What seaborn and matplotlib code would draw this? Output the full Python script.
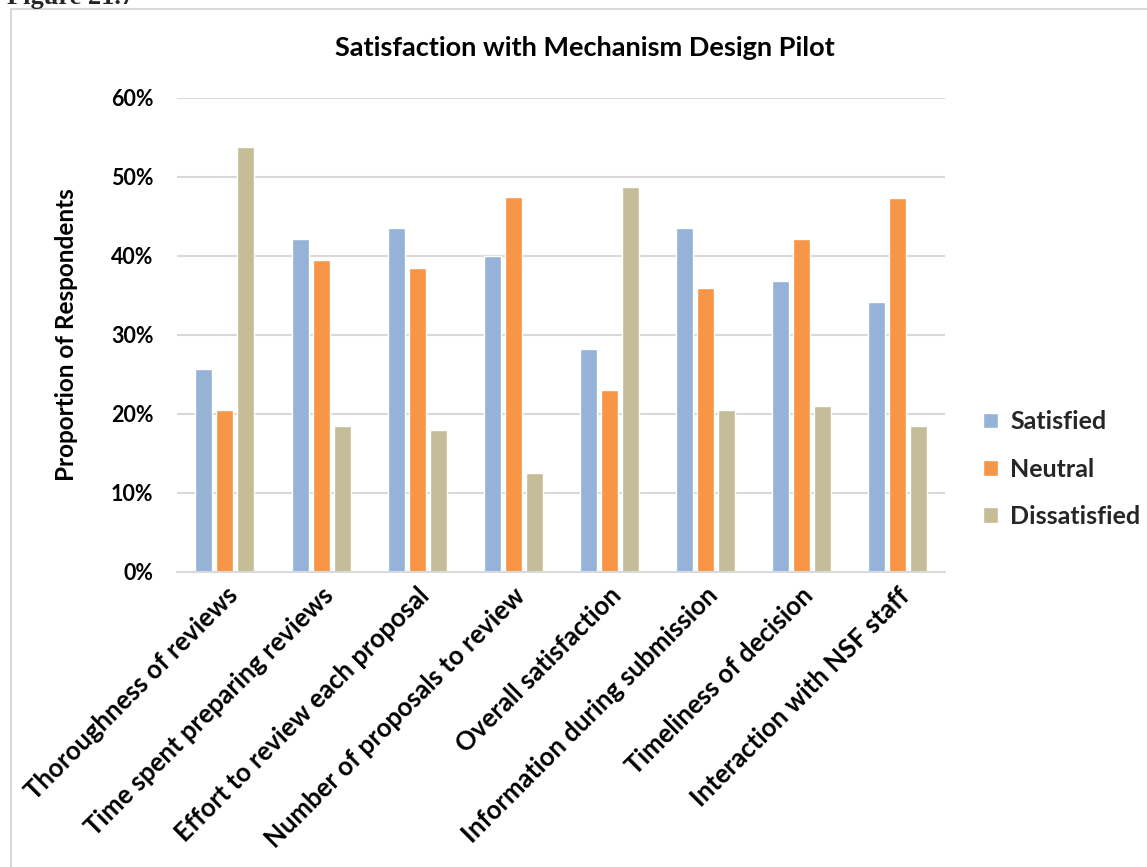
import matplotlib
matplotlib.use("Agg")
import matplotlib.pyplot as plt
import seaborn as sns
import pandas as pd
from matplotlib.patches import Rectangle
from matplotlib.ticker import PercentFormatter

categories = ["Thoroughness of reviews", "Time spent preparing reviews",
              "Effort to review each proposal", "Number of proposals to review",
              "Overall satisfaction", "Information during submission",
              "Timeliness of decision", "Interaction with NSF staff"]
satisfied = [0.257, 0.422, 0.435, 0.400, 0.282, 0.435, 0.368, 0.342]
neutral = [0.205, 0.395, 0.385, 0.475, 0.230, 0.359, 0.422, 0.473]
dissatisfied = [0.538, 0.185, 0.180, 0.125, 0.487, 0.205, 0.210, 0.185]
series = ["Satisfied", "Neutral", "Dissatisfied"]
colors = ["#95B3D7", "#F79646", "#C4BD97"]

rows = []
for name, vals in zip(series, [satisfied, neutral, dissatisfied]):
    for c, v in zip(categories, vals):
        rows.append({"Category": c, "Series": name, "Value": v})
df = pd.DataFrame(rows)

sns.set_theme(style="white")
plt.rcParams['font.family'] = ['Lato', 'DejaVu Sans']

fig = plt.figure(figsize=(11.47, 8.67), dpi=100)
ax = fig.add_axes([0.1543, 0.3403, 0.824 - 0.1543, 0.887 - 0.3403])

sns.barplot(data=df, x="Category", y="Value", hue="Series", palette=colors,
            width=0.656, gap=0.19, ax=ax, saturation=1, legend=True)

ax.set_ylim(0, 0.6)
ax.set_yticks([0, 0.1, 0.2, 0.3, 0.4, 0.5, 0.6])
ax.yaxis.set_major_formatter(PercentFormatter(1.0, decimals=0))
ax.set_axisbelow(True)
ax.yaxis.grid(True, color="#D9D9D9", linewidth=1.5)
for s in ["top", "right", "left"]:
    ax.spines[s].set_visible(False)
ax.spines["bottom"].set_color("#D9D9D9")
ax.spines["bottom"].set_linewidth(1.5)
ax.tick_params(axis="both", length=0)
ax.tick_params(axis="y", pad=17)
ax.set_xlim(-0.5, len(categories) - 0.5)

for lbl in ax.get_yticklabels():
    lbl.set_fontsize(15.5)
    lbl.set_fontweight("bold")
    lbl.set_color("black")
ax.set_xticks(range(len(categories)))
ax.set_xticklabels(categories, rotation=45, ha="right", rotation_mode="anchor",
                   fontsize=18.5, fontweight="bold", color="black")
ax.tick_params(axis="x", pad=8)

ax.set_xlabel("")
ax.set_ylabel("Proportion of Respondents", fontsize=17.5, fontweight="bold",
              color="black", labelpad=24)
fig.text(585 / 1147, 1 - 48 / 867, "Satisfaction with Mechanism Design Pilot",
         fontsize=19.5, fontweight="bold", color="black", ha="center", va="center")

leg = ax.legend(loc="center left", bbox_to_anchor=(1.02, 0.217), frameon=False,
                prop={"size": 18, "weight": "bold"}, handlelength=0.6,
                handleheight=0.6, labelspacing=0.97, handletextpad=0.5)

fig.patches.append(Rectangle((11 / 1147, -0.1), 1.2, 1 - 9 / 867 + 0.1,
                             transform=fig.transFigure, fill=False,
                             edgecolor="#D9D9D9", linewidth=1.5))
fig.text(0.006, 1.003, "Figure 21.7", fontsize=19, fontweight="bold",
         family="Liberation Serif", va="center", ha="left")

fig.savefig("out.png", dpi=100)
